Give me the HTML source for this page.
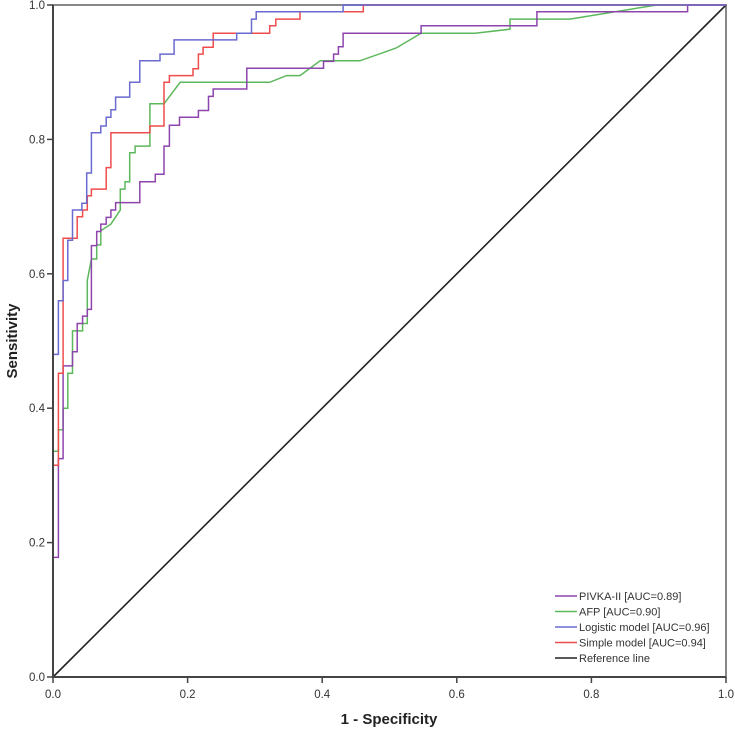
<!DOCTYPE html>
<html><head><meta charset="utf-8"><style>
html,body{margin:0;padding:0;background:#fff;}
svg{display:block;font-family:"Liberation Sans",Arial,sans-serif;}
</style></head><body>
<svg id="chart" width="735" height="731" viewBox="0 0 735 731" xmlns="http://www.w3.org/2000/svg">
<rect x="0" y="0" width="735" height="731" fill="#fff"/>
<g id="plot"></g>
</svg>
<script>
const xTicks = [0, 0.2, 0.4, 0.6, 0.8, 1.0];
const yTicks = [0, 0.2, 0.4, 0.6, 0.8, 1.0];
const tickLabels = ["0.0","0.2","0.4","0.6","0.8","1.0"];
const seriesNames = ["PIVKA-II [AUC=0.89]","AFP [AUC=0.90]","Logistic model [AUC=0.96]","Simple model [AUC=0.94]","Reference line"];
const pivkaX = [0,0,0.008,0.008,0.015,0.015,0.029,0.029,0.036,0.036,0.044,0.044,0.051,0.051,0.057,0.057,0.065,0.065,0.071,0.071,0.079,0.079,0.086,0.086,0.093,0.093,0.129,0.129,0.152,0.152,0.165,0.165,0.173,0.173,0.188,0.188,0.216,0.216,0.231,0.231,0.238,0.238,0.288,0.288,0.402,0.402,0.417,0.417,0.424,0.424,0.431,0.431,0.547,0.547,0.719,0.719,0.943,0.943,1];
const pivkaY = [0,0.178,0.178,0.325,0.325,0.463,0.463,0.484,0.484,0.526,0.526,0.537,0.537,0.547,0.547,0.642,0.642,0.663,0.663,0.674,0.674,0.684,0.684,0.695,0.695,0.706,0.706,0.737,0.737,0.748,0.748,0.79,0.79,0.821,0.821,0.833,0.833,0.843,0.843,0.864,0.864,0.875,0.875,0.906,0.906,0.916,0.916,0.927,0.927,0.938,0.938,0.958,0.958,0.969,0.969,0.99,0.99,1,1];
const afpX = [0,0,0.008,0.008,0.015,0.015,0.022,0.022,0.029,0.029,0.044,0.044,0.051,0.051,0.057,0.057,0.065,0.065,0.071,0.071,0.086,0.1,0.1,0.107,0.107,0.114,0.114,0.122,0.122,0.144,0.144,0.165,0.189,0.322,0.347,0.367,0.397,0.456,0.51,0.547,0.627,0.679,0.679,0.768,0.897,1];
const afpY = [0,0.336,0.336,0.368,0.368,0.40,0.40,0.452,0.452,0.515,0.515,0.526,0.526,0.59,0.622,0.622,0.622,0.643,0.643,0.664,0.674,0.695,0.726,0.726,0.737,0.737,0.78,0.78,0.79,0.79,0.853,0.853,0.885,0.885,0.895,0.895,0.917,0.917,0.936,0.958,0.958,0.964,0.979,0.979,1,1];
const logX = [0,0,0.008,0.008,0.015,0.015,0.022,0.022,0.029,0.029,0.043,0.043,0.05,0.05,0.057,0.057,0.071,0.071,0.079,0.079,0.086,0.086,0.093,0.093,0.114,0.114,0.129,0.129,0.159,0.159,0.18,0.18,0.273,0.273,0.295,0.295,0.302,0.302,0.431,0.431,1];
const logY = [0,0.48,0.48,0.56,0.56,0.59,0.59,0.65,0.65,0.695,0.695,0.705,0.705,0.75,0.75,0.81,0.81,0.82,0.82,0.833,0.833,0.844,0.844,0.863,0.863,0.885,0.885,0.917,0.917,0.927,0.927,0.948,0.948,0.958,0.958,0.979,0.979,0.99,0.99,1,1];
const simX = [0,0,0.008,0.008,0.015,0.015,0.036,0.036,0.044,0.044,0.051,0.051,0.057,0.057,0.079,0.079,0.086,0.086,0.144,0.144,0.165,0.165,0.173,0.173,0.208,0.208,0.216,0.216,0.223,0.223,0.238,0.238,0.322,0.322,0.331,0.331,0.367,0.367,0.461,0.461,1];
const simY = [0,0.315,0.315,0.452,0.452,0.653,0.653,0.685,0.685,0.695,0.695,0.716,0.716,0.726,0.726,0.758,0.758,0.81,0.81,0.82,0.82,0.885,0.885,0.895,0.895,0.905,0.905,0.927,0.927,0.937,0.937,0.958,0.958,0.969,0.969,0.979,0.979,0.99,0.99,1,1];
const refX = [0,1];
const refY = [0,1];

const NS="http://www.w3.org/2000/svg";
const X0=53,X1=726,Y0=677,Y1=5;
function sx(v){return X0+v*(X1-X0);}
function sy(v){return Y0-v*(Y0-Y1);}
const g=document.getElementById('plot');
function mk(tag,attrs){const e=document.createElementNS(NS,tag);for(const k in attrs)e.setAttribute(k,attrs[k]);g.appendChild(e);return e;}

// frame
let fr=mk('rect',{x:X0,y:Y1,width:X1-X0,height:Y0-Y1,fill:'none',stroke:'#888','stroke-width':2});



function line(xs,ys,color,name,w){
  const d=xs.map((v,i)=>(i?'L':'M')+sx(v).toFixed(1)+' '+sy(ys[i]).toFixed(1)).join(' ');
  const p=mk('path',{d:d,fill:'none',stroke:color,'stroke-width':w||1.5});
  
  
}
line(refX,refY,'#222','reference-line',1.6);
line(afpX,afpY,'#5cb85c','afp-curve');
line(pivkaX,pivkaY,'#8e44ad','pivka-curve');
line(simX,simY,'#ef4d4d','simple-model-curve');
line(logX,logY,'#6a6ad0','logistic-model-curve');

// axes
let ax=mk('line',{x1:X0,y1:Y1,x2:X0,y2:Y0,stroke:'#444','stroke-width':2});


let axb=mk('line',{x1:X0,y1:Y0,x2:X1,y2:Y0,stroke:'#444','stroke-width':2});



xTicks.forEach((v,i)=>{
  const t=mk('line',{x1:sx(v),y1:Y0,x2:sx(v),y2:Y0+6,stroke:'#444','stroke-width':1.5});
  
  
  const l=mk('text',{x:sx(v),y:Y0+21,'text-anchor':'middle','font-size':11.5,fill:'#333'});
  l.textContent=tickLabels[i];
  
  
});
yTicks.forEach((v,i)=>{
  const t=mk('line',{x1:X0-6,y1:sy(v),x2:X0,y2:sy(v),stroke:'#444','stroke-width':1.5});
  
  
  const l=mk('text',{x:X0-8,y:sy(v)+4,'text-anchor':'end','font-size':11.5,fill:'#333'});
  l.textContent=tickLabels[i];
  
  
});

let xt=mk('text',{x:389,y:724,'text-anchor':'middle','font-size':15,'font-weight':'bold',fill:'#222'});
xt.textContent='1 - Specificity';


let yt=mk('text',{x:0,y:0,'text-anchor':'middle','font-size':15,'font-weight':'bold',fill:'#222',transform:'translate(17,341) rotate(-90)'});
yt.textContent='Sensitivity';



const legColors=['#8e44ad','#5cb85c','#6a6ad0','#ef4d4d','#222'];
seriesNames.forEach((n,i)=>{
  const y=596+i*15.5;
  const s=mk('line',{x1:555,y1:y,x2:577,y2:y,stroke:legColors[i],'stroke-width':1.5});
  
  
  const t=mk('text',{x:579,y:y+4,'font-size':11,fill:'#333'});
  t.textContent=n;
  
  
});
</script>
</body></html>
